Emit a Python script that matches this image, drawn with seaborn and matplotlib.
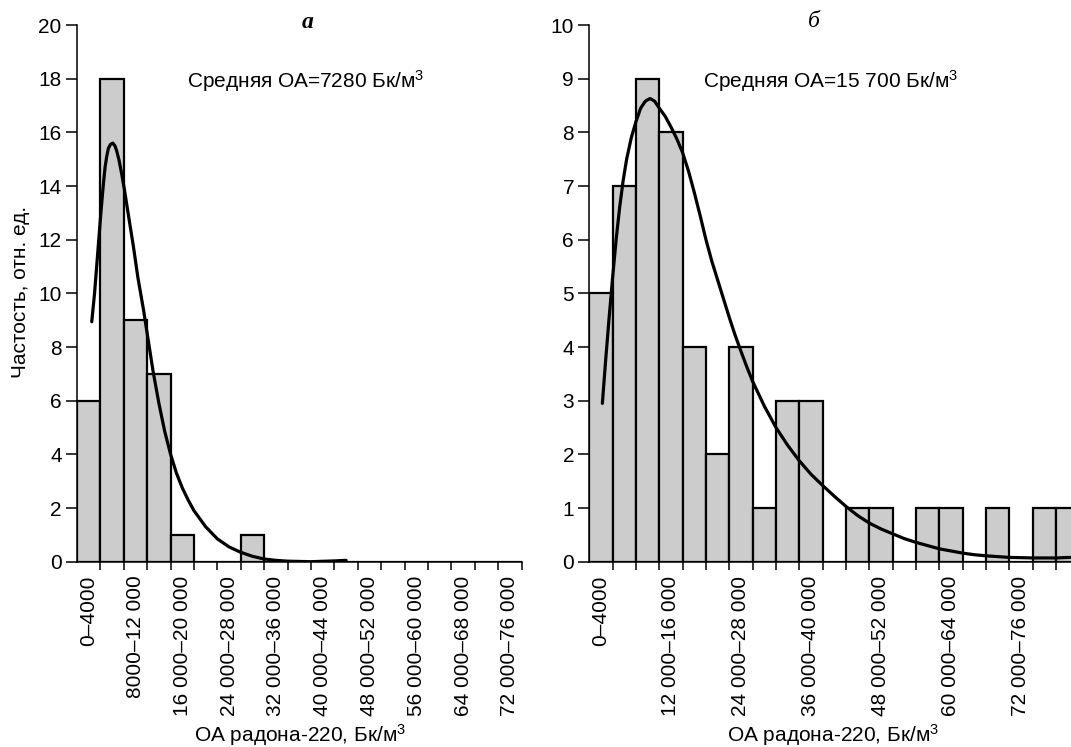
import numpy as np
import pandas as pd
import matplotlib
matplotlib.use("Agg")
import matplotlib.pyplot as plt
import seaborn as sns

# ---------------- data ----------------
BIN_WIDTH = 4000
# panel а
counts_a = [6, 18, 9, 7, 1, 0, 0, 1, 0, 0, 0, 0, 0, 0, 0, 0, 0, 0, 0]
curve_a_x = [2520, 3000, 3360, 3720, 4120, 4480, 4800, 5080, 5360, 5720,
             6120, 6480, 6800, 7200, 7640, 8120, 8800, 9640, 10400, 11360,
             12000, 13000, 14000, 15000, 16000, 17000, 18000, 19000, 20000, 22000,
             24000, 26000, 28000, 30000, 32000, 34000, 36000, 40000, 44000, 46000]
curve_a_y = [8.94, 10.0, 11.0, 12.0, 13.1, 14.0, 14.7, 15.1, 15.4, 15.55,
             15.6, 15.5, 15.3, 14.95, 14.45, 13.85, 12.9, 11.75, 10.6, 9.4,
             8.5, 7.1, 5.9, 4.85, 4.0, 3.3, 2.75, 2.3, 1.9, 1.3,
             0.85, 0.55, 0.35, 0.2, 0.1, 0.05, 0.02, 0.0, 0.03, 0.05]
labels_a = ["0–4000", "8000–12 000", "16 000–20 000", "24 000–28 000", "32 000–36 000",
            "40 000–44 000", "48 000–52 000", "56 000–60 000", "64 000–68 000", "72 000–76 000"]
mean_a = "Средняя ОА=7280 Бк/м$^3$"

# panel б
counts_b = [5, 7, 9, 8, 4, 2, 4, 1, 3, 3, 0, 1, 1, 0, 1, 1, 0, 1, 0, 1, 1]
curve_b_x = [2240, 2800, 3400, 4000, 4600, 5200, 5800, 6400, 7200, 8000,
             8800, 9600, 10400, 11200, 12000,
             13000, 14000, 15000, 16000, 17000, 18000, 19000, 20000, 21000, 22000,
             23000, 24000, 25000, 26000, 27000, 28000,
             30000, 32000, 34000, 36000, 38000, 40000, 42000, 44000, 46000, 48000,
             50000, 52000, 54000, 56000, 58000, 60000, 62000, 64000, 66000, 68000,
             70000, 72000, 76000, 80000, 82400]
curve_b_y = [2.95, 3.75, 4.55, 5.3, 6.0, 6.6, 7.1, 7.5, 7.9, 8.2,
             8.45, 8.58, 8.63, 8.58, 8.45,
             8.3, 8.1, 7.88, 7.62, 7.28, 6.88, 6.45, 6.0, 5.6, 5.25,
             4.9, 4.55, 4.22, 3.92, 3.63, 3.36,
             2.9, 2.5, 2.17, 1.88, 1.63, 1.42, 1.22, 1.03, 0.86, 0.72,
             0.61, 0.52, 0.43, 0.36, 0.3, 0.24, 0.2, 0.16, 0.13, 0.11,
             0.095, 0.08, 0.07, 0.07, 0.08]
labels_b = ["0–4000", "12 000–16 000", "24 000–28 000", "36 000–40 000",
            "48 000–52 000", "60 000–64 000", "72 000–76 000"]
mean_b = "Средняя ОА=15 700 Бк/м$^3$"

ylabel = "Частость, отн. ед."
xlabel = "ОА радона-220, Бк/м$^3$"

# ---------------- style ----------------
sns.set_style("ticks")
plt.rcParams["font.family"] = ["Liberation Sans", "DejaVu Sans"]
plt.rcParams["mathtext.fontset"] = "custom"
plt.rcParams["mathtext.rm"] = "Liberation Sans"
plt.rcParams["mathtext.it"] = "Liberation Sans:italic"
plt.rcParams["mathtext.bf"] = "Liberation Sans:bold"
for key in ["text.color", "axes.labelcolor", "xtick.color", "ytick.color", "axes.edgecolor"]:
    plt.rcParams[key] = "black"

W, H = 1071, 747
fig = plt.figure(figsize=(W / 100, H / 100), dpi=100)
fig.patch.set_facecolor("white")

bottom = (H - 561.7) / H
height = 536.7 / H
ax1 = fig.add_axes([77 / W, bottom, 444.6 / W, height])
ax2 = fig.add_axes([589.3 / W, bottom, 490.0 / W, height])


def draw(ax, counts, cx, cy, labels, step, ymax, ystep):
    n = len(counts)
    edges = np.arange(n + 1) * BIN_WIDTH
    centers = edges[:-1] + BIN_WIDTH / 2
    df = pd.DataFrame({"x": centers, "w": counts})
    sns.histplot(data=df, x="x", weights="w", binwidth=BIN_WIDTH,
                 binrange=(0, n * BIN_WIDTH), ax=ax,
                 color="#cccccc", edgecolor="black", linewidth=1.6, alpha=1.0)
    sns.lineplot(x=cx, y=cy, ax=ax, color="black", linewidth=2.3, sort=False)
    ax.set_xlim(0, n * BIN_WIDTH)
    ax.set_ylim(0, ymax)
    ax.set_yticks(np.arange(0, ymax + 0.1, ystep))
    ax.tick_params(axis="y", labelsize=15, length=8, width=1.1, pad=3, direction="out",
                   colors="black")
    ax.set_xticks(centers[::step])
    ax.set_xticklabels(labels, rotation=90, fontsize=15)
    ax.tick_params(axis="x", which="major", length=0, pad=10, colors="black")
    ax.set_xticks(edges[1:], minor=True)
    ax.tick_params(axis="x", which="minor", length=6, width=1.1, direction="out",
                   colors="black")
    for s in ["top", "right"]:
        ax.spines[s].set_visible(False)
    for s in ["left", "bottom"]:
        ax.spines[s].set_linewidth(1.1)
        ax.spines[s].set_color("black")
    ax.set_xlabel("")
    ax.set_ylabel("")
    ax.set_facecolor("white")


draw(ax1, counts_a, curve_a_x, curve_a_y, labels_a, 2, 20, 2)
draw(ax2, counts_b, curve_b_x, curve_b_y, labels_b, 3, 10, 1)

# annotations (figure pixel positions)
def fx(px):
    return px / W

def fy(py):
    return (H - py) / H

fig.text(fx(187), fy(88), mean_a, fontsize=15, ha="left", va="baseline", color="black")
fig.text(fx(703), fy(88), mean_b, fontsize=15, ha="left", va="baseline", color="black")
fig.text(fx(308), fy(28), "а", fontsize=17, ha="center", va="baseline", color="black",
         family="Liberation Serif", style="italic", weight="bold")
fig.text(fx(814), fy(27), "б", fontsize=17, ha="center", va="baseline", color="black",
         family="Liberation Serif", style="italic")
fig.text(fx(21), fy(292), ylabel, fontsize=15, rotation=90, ha="center", va="center",
         color="black")
fig.text(fx(300), fy(742), xlabel, fontsize=15, ha="center", va="baseline", color="black")
fig.text(fx(833), fy(742), xlabel, fontsize=15, ha="center", va="baseline", color="black")

fig.savefig("out.png", dpi=100, facecolor="white")
